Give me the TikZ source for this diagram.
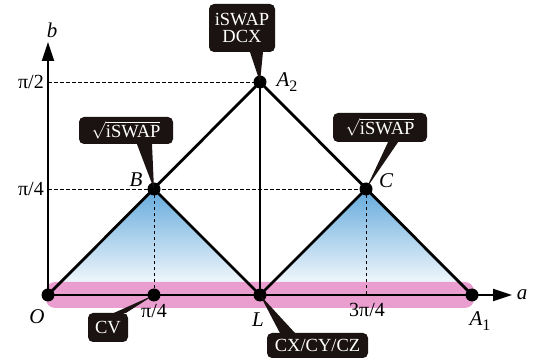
\documentclass[tikz,border=0pt]{standalone}
\usepackage{fontspec}
\setmainfont{Liberation Serif}
\usetikzlibrary{arrows.meta}
\definecolor{SkyBlue}{RGB}{100,170,220}
\definecolor{BandPink}{RGB}{234,158,208}
\definecolor{Callout}{HTML}{1A1311}
\newcommand{\lowsub}[1]{\raisebox{-5pt}{\fontsize{16}{16}\selectfont\upshape #1}}

\begin{document}
\begin{tikzpicture}[x=1pt,y=1pt,font=\fontsize{18}{20}\selectfont,
    >={Triangle[length=19pt,width=12pt]},
    dot/.style={circle,fill=black,inner sep=0pt,minimum size=13pt},
    edge/.style={line width=2.8pt,line cap=round},
    axis/.style={line width=2.2pt},
    guide/.style={line width=0.8pt,dash pattern=on 3.5pt off 2.5pt},
    tick/.style={font=\fontsize{20}{22}\selectfont},
    pointlab/.style={font=\fontsize{21}{23}\selectfont\itshape},
    callout/.style={fill=Callout,text=white,rounded corners=5pt,inner sep=0pt,align=center},
    band/.style={fill=BandPink,rounded corners=9pt}]
        \useasboundingbox (0,0) rectangle (533,-363);
        % points of the Weyl chamber cut
        \coordinate (O) at (48,-295);
        \coordinate (P4) at (154,-295);
        \coordinate (L) at (260,-295);
        \coordinate (P34) at (366,-295);
        \coordinate (A1) at (472,-295);
        \coordinate (B) at (154,-189);
        \coordinate (C) at (366,-189);
        \coordinate (A2) at (260,-82);
        \coordinate (xend) at (512,-295);
        \coordinate (yend) at (48,-42);
        \coordinate (ypi2) at (48,-82);
        \coordinate (ypi4) at (48,-189);
        % shaded triangles
        \begin{scope}
          \clip (O)--(B)--(L)--cycle;
          \shade[top color=SkyBlue,bottom color=white] (48,-189) rectangle (260,-293);
        \end{scope}
        \begin{scope}
          \clip (L)--(C)--(A1)--cycle;
          \shade[top color=SkyBlue,bottom color=white] (260,-189) rectangle (472,-293);
        \end{scope}
        \fill[band] (46,-282) rectangle (270,-308);
        \fill[band] (250,-282) rectangle (474,-308);
        % guides
        \draw[guide] (ypi2)--(A2);
        \draw[guide] (ypi4)--(C);
        \draw[guide] (B)--(P4);
        \draw[guide] (C)--(P34);
        % axes
        \draw[axis,->] (O)--(xend);
        \draw[axis,->] (O)--(yend);
        % edges
        \draw[edge] (O)--(A2)--(A1);
        \draw[edge] (B)--(L)--(C);
        \draw[edge] (L)--(A2);
        \foreach \p in {O,P4,L,A1,B,C,A2}
          \node[dot] (\p dot) at (\p) {};
        % labels
        \node[pointlab] (blab) at (52,-30) {b};
        \node[pointlab] (alab) at (522,-295) {a};
        \node[tick,anchor=east,inner sep=0pt] (tpi2) at (44,-82) {π/2};
        \node[tick,anchor=east,inner sep=0pt] (tpi4) at (44,-189) {π/4};
        \node[tick] (bpi4) at (154,-311) {π/4};
        \node[tick] (b3pi4) at (367,-310) {3π/4};
        \node[pointlab] (Olab) at (37,-317) {O};
        \node[pointlab] (Llab) at (258,-320) {L};
        \node[pointlab] (A1lab) at (480,-321) {A\lowsub{1}};
        \node[pointlab] (Blab) at (136,-180) {B};
        \node[pointlab] (Clab) at (386,-181) {C};
        \node[pointlab] (A2lab) at (287,-82) {A\lowsub{2}};
        % callouts
        \node[callout,minimum width=66pt,minimum height=48pt,font=\fontsize{18.5}{17}\selectfont] (dcx) at (242,-28) {iSWAP\\DCX};
        \fill[Callout] ([xshift=8pt]dcx.south)--([xshift=21pt]dcx.south)--(A2)--cycle;
        \node[callout,minimum width=94pt,minimum height=27pt] (sqleft) at (126,-130.5) {$\sqrt{\mbox{\fontsize{18.5}{20}\selectfont iSWAP}}$};
        \fill[Callout] ([xshift=11pt]sqleft.south)--([xshift=26pt]sqleft.south)--(B)--cycle;
        \node[callout,minimum width=94pt,minimum height=29pt] (sqright) at (380,-127.5) {$\sqrt{\mbox{\fontsize{18.5}{20}\selectfont iSWAP}}$};
        \fill[Callout] ([xshift=8pt]sqright.south)--([xshift=18pt]sqright.south)--(C)--cycle;
        \node[callout,minimum width=40pt,minimum height=29pt,font=\fontsize{18.5}{20}\selectfont] (cv) at (108,-327.5) {CV};
        \fill[Callout] ([xshift=-14pt]cv.north east)--([xshift=-2pt]cv.north east)--(P4)--cycle;
        \node[callout,minimum width=101pt,minimum height=25pt,font=\fontsize{18.5}{20}\selectfont] (cxcz) at (317.5,-345.5) {CX/CY/CZ};
        \fill[Callout] ([xshift=13pt]cxcz.north west)--([xshift=28pt]cxcz.north west)--(L)--cycle;
\end{tikzpicture}
\end{document}
